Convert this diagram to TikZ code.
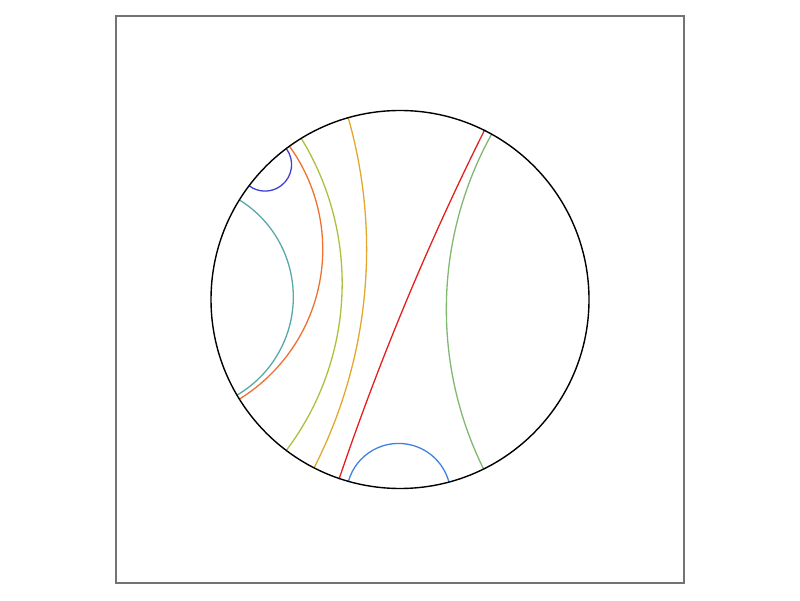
\documentclass[tikz,border=0pt]{standalone}
\definecolor{gpurple}{RGB}{64,64,208}
\definecolor{gteal}{RGB}{88,168,168}
\definecolor{gorange}{RGB}{240,112,48}
\definecolor{gyellowgreen}{RGB}{172,192,64}
\definecolor{ggold}{RGB}{226,168,44}
\definecolor{gred}{RGB}{226,32,32}
\definecolor{ggreen}{RGB}{128,184,112}
\definecolor{gblue}{RGB}{64,128,224}
\newcommand\myR{189}
\newcommand\geod[3]{%
  \pgfmathsetmacro\gm{(#2+#3)/2}%
  \pgfmathsetmacro\gd{(#3-#2)/2}%
  \pgfmathsetmacro\gr{\myR*tan(\gd)}%
  \pgfmathsetmacro\gs{\gm+270-\gd}%
  \pgfmathsetmacro\gdel{-(180-2*\gd)}%
  \draw[geo,#1] (#2:\myR) arc[start angle=\gs, delta angle=\gdel, radius=\gr];%
}
\begin{document}
\begin{tikzpicture}[x=1pt,y=1pt,
  geo/.style={line width=1.3pt},
  frame/.style={draw=black!55,line width=1.1pt},
  disk/.style={draw=black,line width=1.4pt}]
\useasboundingbox (0,0) rectangle (800,600);
\draw[frame] (116,17) rectangle (684,584);
\begin{scope}[shift={(400,300.5)}]
  \geod{gpurple}{127.0}{143.0}
  \geod{gteal}{148.2}{210.4}
  \geod{gorange}{125.8}{211.8}
  \geod{gyellowgreen}{121.5}{233.0}
  \geod{ggold}{105.9}{242.96}
  \geod{gred}{-108.75}{63.5}
  \geod{ggreen}{-63.76}{61.0}
  \geod{gblue}{-105.84}{-75.0}
  \draw[disk] (0,0) circle[radius=\myR];
\end{scope}
\end{tikzpicture}
\end{document}
